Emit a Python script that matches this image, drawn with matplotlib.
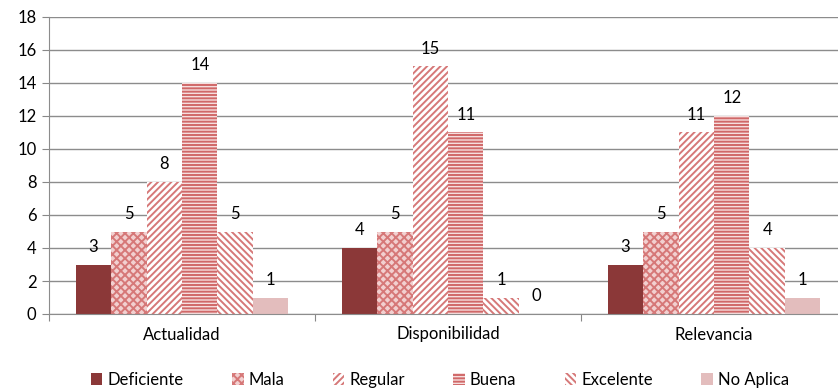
import matplotlib
matplotlib.use("Agg")
import matplotlib.pyplot as plt
import numpy as np
from matplotlib.patches import Patch

categories = ["Actualidad", "Disponibilidad", "Relevancia"]
series_names = ["Deficiente", "Mala", "Regular", "Buena", "Excelente", "No Aplica"]
deficiente = [3, 4, 3]
mala = [5, 5, 5]
regular = [8, 15, 11]
buena = [14, 11, 12]
excelente = [5, 1, 4]
no_aplica = [1, 0, 1]

plt.rcParams["font.family"] = ["Lato", "DejaVu Sans"]
plt.rcParams["hatch.linewidth"] = 1.4

dark = "#8B3838"
mid = "#D67878"
light = "#E3BDBD"
styles = [
    dict(color=dark),
    dict(facecolor="#F2D0D0", edgecolor=mid, hatch="xxxx"),
    dict(facecolor="white", edgecolor=mid, hatch="/////"),
    dict(facecolor="#F6DEDE", edgecolor="#D06868", hatch="-----"),
    dict(facecolor="white", edgecolor=mid, hatch="\\\\\\\\\\"),
    dict(color=light),
]
values = [deficiente, mala, regular, buena, excelente, no_aplica]

fig = plt.figure(figsize=(8.38, 3.92), dpi=100)
ax = fig.add_axes([49 / 838, (392 - 314) / 392, 798 / 838, 297 / 392])

x = np.arange(len(categories))
w = 0.8 / 6
fs = 12
for i, (name, vals, st) in enumerate(zip(series_names, values, styles)):
    pos = x - 0.4 + w * (i + 0.5)
    ax.bar(pos, vals, w, linewidth=0, label=name, zorder=2, **st)
    for p, v in zip(pos, vals):
        ax.text(p, v + 0.6, str(v), ha="center", va="bottom", fontsize=fs)

ax.set_ylim(0, 18)
ax.set_yticks(range(0, 19, 2))
ax.set_xlim(-0.5, 2.5)
ax.set_xticks([-0.5, 0.5, 1.5, 2.5], minor=False)
ax.set_xticklabels([])
ax.set_xticks(x, minor=True)
ax.set_xticklabels(categories, minor=True)
ax.tick_params(axis="x", which="minor", length=0, pad=9, labelsize=fs)
ax.tick_params(axis="x", which="major", length=5, color="#888888")
ax.tick_params(axis="y", length=5, color="#888888", labelsize=fs, pad=4)
ax.grid(axis="y", color="#8c8c8c", linewidth=1, zorder=0)
for s in ["top", "right"]:
    ax.spines[s].set_visible(False)
for s in ["left", "bottom"]:
    ax.spines[s].set_color("#8c8c8c")

handles = [Patch(label=n, linewidth=0, **st) for n, st in zip(series_names, styles)]
fig.legend(handles=handles, loc="center", bbox_to_anchor=(440 / 838, 12 / 392),
           ncol=6, frameon=False, fontsize=fs, handlelength=0.7, handleheight=0.7,
           handletextpad=0.3, columnspacing=2.9)

fig.savefig("out.png", dpi=100)
